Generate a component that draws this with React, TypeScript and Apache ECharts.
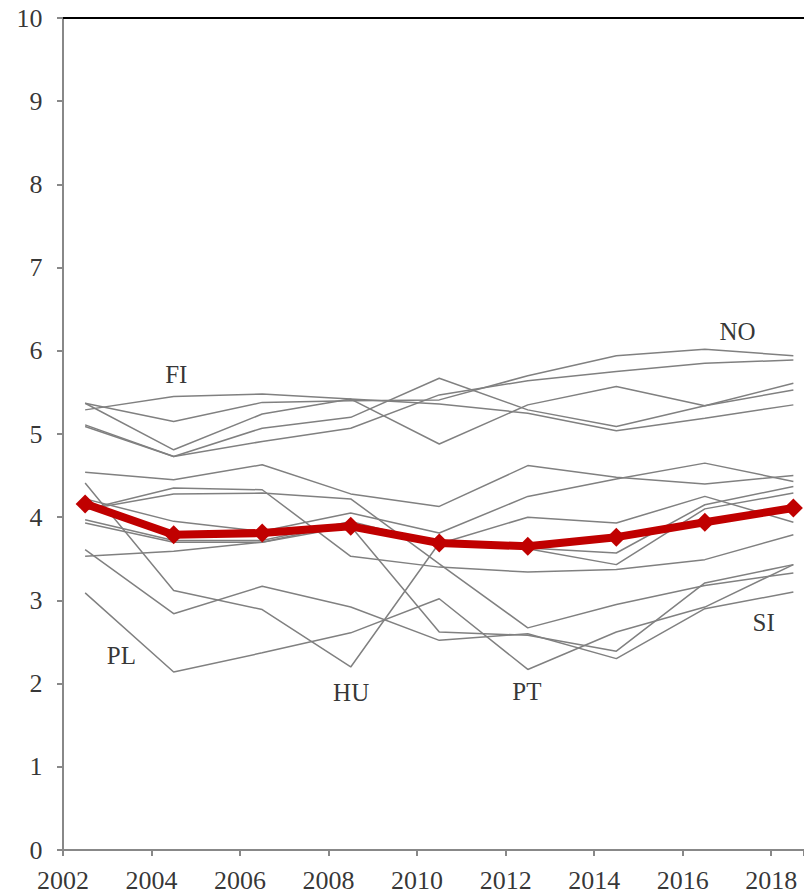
import React, { useEffect, useRef } from "react";
import * as echarts from "echarts";

const years = [2002.5, 2004.5, 2006.5, 2008.5, 2010.5, 2012.5, 2014.5, 2016.5, 2018.5];
const xTicks = { min: 2002, max: 2018.74, interval: 2 };
const xTickLabels = [2002, 2004, 2006, 2008, 2010, 2012, 2014, 2016, 2018];
const yTickLabels = [0, 1, 2, 3, 4, 5, 6, 7, 8, 9, 10];

const countryFI = [5.29, 5.45, 5.48, 5.42, 4.88, 5.35, 5.57, 5.34, 5.53];
const countryNO = [5.37, 5.15, 5.38, 5.40, 5.41, 5.70, 5.94, 6.02, 5.94];
const countryT3 = [5.37, 4.81, 5.24, 5.42, 5.36, 5.25, 5.04, 5.19, 5.35];
const countryT4 = [5.11, 4.73, 5.07, 5.20, 5.67, 5.29, 5.09, 5.34, 5.61];
const countryT5 = [5.09, 4.73, 4.91, 5.07, 5.47, 5.64, 5.75, 5.85, 5.89];
const countryM1 = [4.54, 4.45, 4.63, 4.28, 4.13, 4.62, 4.48, 4.40, 4.50];
const countryM2 = [4.22, 3.95, 3.83, 4.05, 3.81, 4.25, 4.46, 4.65, 4.43];
const countryM3 = [4.09, 4.35, 4.33, 3.53, 3.40, 3.34, 3.37, 3.49, 3.79];
const countryM4 = [4.09, 4.28, 4.29, 4.22, 3.44, 2.67, 2.95, 3.18, 3.33];
const countryM5 = [3.97, 3.72, 3.72, 3.95, 3.68, 4.00, 3.93, 4.25, 3.94];
const countryM6 = [3.93, 3.70, 3.70, 3.93, 3.66, 3.62, 3.43, 4.10, 4.29];
const countryM7 = [3.53, 3.59, 3.70, 3.89, 2.62, 2.58, 2.39, 3.21, 3.43];
const countryHU = [4.41, 3.12, 2.89, 2.20, 3.69, 3.63, 3.57, 4.15, 4.37];
const countryPT = [3.09, 2.14, 2.37, 2.61, 3.02, 2.17, 2.62, 2.92, 3.43];
const countrySI = [3.61, 2.84, 3.17, 2.92, 2.52, 2.60, 2.30, 2.90, 3.10];

const average = [4.16, 3.79, 3.81, 3.89, 3.69, 3.65, 3.76, 3.94, 4.11];

const countries = [
  countryFI, countryNO, countryT3, countryT4, countryT5,
  countryM1, countryM2, countryM3, countryM4, countryM5, countryM6, countryM7,
  countryHU, countryPT, countrySI,
];

const labelNames = ["FI", "NO", "PL", "HU", "PT", "SI"];
const labelX = [2004.56, 2017.24, 2003.32, 2008.51, 2012.48, 2017.83];
const labelY = [5.72, 6.23, 2.34, 1.89, 1.91, 2.74];

const FONT = "Liberation Serif";

export default function App() {
  const ref = useRef<HTMLDivElement>(null);
  useEffect(() => {
    if (!ref.current) return;
    const chart = echarts.init(ref.current, undefined, { renderer: "svg" });
    const pair = (vals: number[]) => years.map((y, i) => [y, vals[i]]);
    const graySeries = countries.map((c) => ({
      type: "line",
      data: pair(c),
      symbol: "none",
      silent: true,
      z: 2,
      lineStyle: { color: "#808080", width: 1.5 },
    }));
    const textLabel = (position: string, distance: number, size: number) => ({
      show: true,
      position,
      distance,
      formatter: (p: any) => String(p.value[2]),
      color: "#000",
      fontFamily: FONT,
      fontSize: size,
    });
    chart.setOption({
      animation: false,
      textStyle: { fontFamily: FONT },
      grid: { left: 63, top: 18, right: 0, bottom: 44 },
      xAxis: [
        {
          type: "value",
          min: xTicks.min,
          max: xTicks.max,
          interval: xTicks.interval,
          axisLine: { show: true, lineStyle: { color: "#888", width: 2 } },
          axisTick: { show: true, length: 6, lineStyle: { color: "#888", width: 2 } },
          axisLabel: { show: false },
          splitLine: { show: false },
        },
        {
          type: "value",
          position: "top",
          min: xTicks.min,
          max: xTicks.max,
          axisLine: { show: true, lineStyle: { color: "#000", width: 2 } },
          axisTick: { show: false },
          axisLabel: { show: false },
          splitLine: { show: false },
        },
      ],
      yAxis: {
        type: "value",
        min: 0,
        max: 10,
        interval: 1,
        axisLine: { show: true, lineStyle: { color: "#888", width: 2 } },
        axisTick: { show: true, length: 6, lineStyle: { color: "#888", width: 2 } },
        axisLabel: { show: false },
        splitLine: { show: false },
      },
      series: [
        ...graySeries,
        {
          type: "line",
          data: pair(average),
          symbol: "diamond",
          symbolSize: 19,
          z: 5,
          lineStyle: { color: "#C00000", width: 8 },
          itemStyle: { color: "#C00000" },
        },
        {
          type: "scatter",
          data: labelNames.map((n, i) => [labelX[i], labelY[i], n]),
          symbolSize: 1,
          silent: true,
          itemStyle: { color: "rgba(0,0,0,0)" },
          z: 6,
          label: textLabel("inside", 0, 25),
        },
        {
          type: "scatter",
          data: xTickLabels.map((v) => [v, 0, v]),
          symbolSize: 1,
          silent: true,
          clip: false,
          itemStyle: { color: "rgba(0,0,0,0)" },
          z: 6,
          label: textLabel("bottom", 17, 26),
        },
        {
          type: "scatter",
          data: yTickLabels.map((v) => [xTicks.min, v, v]),
          symbolSize: 1,
          silent: true,
          clip: false,
          itemStyle: { color: "rgba(0,0,0,0)" },
          z: 6,
          label: textLabel("left", 20, 26),
        },
      ],
    });
    return () => chart.dispose();
  }, []);
  return (
    <div
      ref={ref}
      style={{ position: "fixed", left: 0, top: 0, width: 804, height: 894, background: "#fff" }}
    />
  );
}
